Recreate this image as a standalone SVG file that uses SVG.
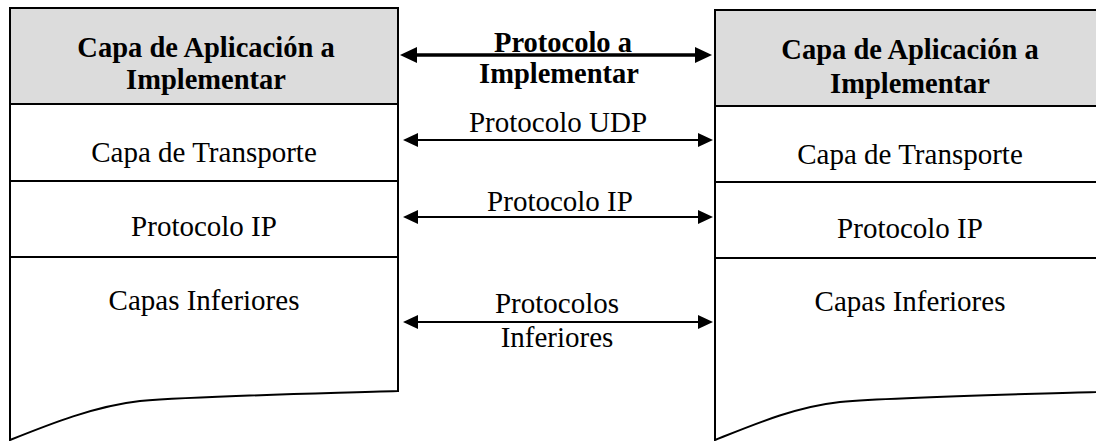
<svg xmlns="http://www.w3.org/2000/svg" width="1096" height="441" viewBox="0 0 1096 441">
  <style>
    .box { fill: #ffffff; stroke: #000; stroke-width: 2; }
    .hdr { fill: #dcdcdc; stroke: #000; stroke-width: 2; }
    .sep { stroke: #000; stroke-width: 2; fill: none; }
    .b { font-family: "Liberation Serif", "Times New Roman", serif; font-weight: bold; font-size: 28.5px; fill: #000; text-anchor: middle; }
    .r { font-family: "Liberation Serif", "Times New Roman", serif; font-size: 29px; fill: #000; text-anchor: middle; }
    .thick { stroke: #000; stroke-width: 3.5; fill: none; }
    .thin { stroke: #000; stroke-width: 2; fill: none; }
  </style>
  <defs>
    <marker id="ahB" viewBox="0 0 17 16" refX="13" refY="8" markerWidth="17" markerHeight="16" markerUnits="userSpaceOnUse" orient="auto-start-reverse">
      <path d="M0,0 L17,8 L0,16 Z" fill="#000"/>
    </marker>
    <marker id="ahT" viewBox="0 0 15 14" refX="11" refY="7" markerWidth="15" markerHeight="14" markerUnits="userSpaceOnUse" orient="auto-start-reverse">
      <path d="M0,0 L15,7 L0,14 Z" fill="#000"/>
    </marker>
  </defs>
  <rect width="1096" height="441" fill="#ffffff"/>

  <g id="left-stack">
    <path class="box" d="M10,8 H398 V391 C 300,394 200,396 140,401 C 95,406 50,424 10,440 Z"/>
    <rect class="hdr" x="10" y="8" width="388" height="96"/>
    <line class="sep" x1="10" y1="181" x2="398" y2="181"/>
    <line class="sep" x1="10" y1="257" x2="398" y2="257"/>
    <text class="b" x="206" y="57">Capa de Aplicación a</text>
    <text class="b" x="206" y="89">Implementar</text>
    <text class="r" x="204" y="162">Capa de Transporte</text>
    <text class="r" x="204" y="236">Protocolo IP</text>
    <text class="r" x="204" y="310">Capas Inferiores</text>
  </g>

  <g id="right-stack">
    <path class="box" d="M715,10 H1110 V391 L1096,392 C 1000,395 900,397 840,402 C 795,407 755,424 715,440 Z"/>
    <rect class="hdr" x="715" y="10" width="395" height="96"/>
    <line class="sep" x1="715" y1="182" x2="1110" y2="182"/>
    <line class="sep" x1="715" y1="258" x2="1110" y2="258"/>
    <text class="b" x="910" y="59">Capa de Aplicación a</text>
    <text class="b" x="910" y="93">Implementar</text>
    <text class="r" x="910" y="164">Capa de Transporte</text>
    <text class="r" x="910" y="238">Protocolo IP</text>
    <text class="r" x="910" y="311">Capas Inferiores</text>
  </g>

  <g id="connectors">
    <line class="thick" x1="404" y1="55" x2="708" y2="55" marker-start="url(#ahB)" marker-end="url(#ahB)"/>
    <line class="thin" x1="407" y1="140" x2="709" y2="140" marker-start="url(#ahT)" marker-end="url(#ahT)"/>
    <line class="thin" x1="407" y1="217" x2="709" y2="217" marker-start="url(#ahT)" marker-end="url(#ahT)"/>
    <line class="thin" x1="407" y1="322" x2="709" y2="322" marker-start="url(#ahT)" marker-end="url(#ahT)"/>
  </g>

  <g id="labels">
    <text class="b" x="563" y="52">Protocolo a</text>
    <text class="b" x="559" y="83">Implementar</text>
    <text class="r" x="558" y="132">Protocolo UDP</text>
    <text class="r" x="560" y="211">Protocolo IP</text>
    <text class="r" x="557" y="313">Protocolos</text>
    <text class="r" x="557" y="347">Inferiores</text>
  </g>
</svg>
